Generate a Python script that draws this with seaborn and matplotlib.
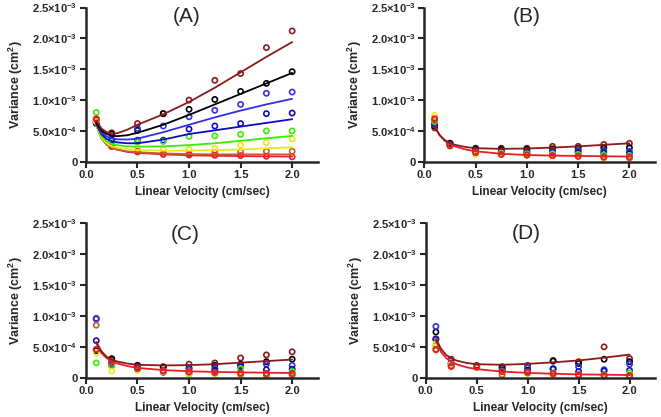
import numpy as np
import pandas as pd
import matplotlib
matplotlib.use('Agg')
import matplotlib.pyplot as plt
import seaborn as sns

sns.set_style('ticks')
plt.rcParams['font.family'] = ['Liberation Sans', 'DejaVu Sans']
plt.rcParams['font.weight'] = 'bold'
plt.rcParams['mathtext.fontset'] = 'custom'
plt.rcParams['mathtext.rm'] = 'Liberation Sans:bold'
plt.rcParams['mathtext.it'] = 'Liberation Sans:bold'
plt.rcParams['mathtext.bf'] = 'Liberation Sans:bold'

# velocities of the measured points and of the drawn fit curves (cm/sec)
velocity = [0.1, 0.25, 0.5, 0.75, 1.0, 1.25, 1.5, 1.75, 2.0]
fit_velocity = [0.1, 0.15, 0.2, 0.25, 0.3, 0.4, 0.5, 0.75, 1.0, 1.25, 1.5, 1.75, 2.0]

series = ['darkred', 'black', 'blue', 'navy', 'green', 'yellow', 'orange', 'red']
colors = ['#8b1a1a', '#000000', '#3030e8', '#0c0cc8', '#3cec00', '#e8e81c', '#c85a32', '#ec1c24']

# measured variances, units of 1e-4 cm^2, one row per series (order as `series`)
points_A = [
    [6.75, 4.7, 6.2, 7.8, 10.0, 13.2, 14.3, 18.5, 21.2],
    [6.2, 4.5, 5.1, 7.8, 8.5, 10.1, 11.4, 12.7, 14.6],
    [6.3, 3.6, 5.4, 5.8, 7.3, 8.35, 9.3, 11.1, 11.3],
    [6.4, 3.5, 3.5, 3.5, 5.3, 5.8, 6.2, 7.8, 7.9],
    [8.0, 3.0, 3.2, 3.3, 4.1, 4.2, 4.45, 5.0, 5.0],
    [6.5, 2.5, 2.2, 2.0, 2.0, 2.2, 2.7, 3.1, 3.7],
    [7.0, 2.5, 1.7, 1.3, 1.3, 1.5, 1.6, 1.7, 1.7],
    [6.9, 2.5, 1.6, 1.2, 1.1, 1.05, 1.0, 0.9, 0.8],
]
points_B = [
    [5.5, 3.0, 2.2, 2.2, 2.2, 2.5, 2.5, 2.8, 3.0],
    [5.8, 3.0, 2.1, 2.0, 2.0, 2.1, 2.2, 2.3, 2.3],
    [6.0, 2.8, 1.9, 1.7, 1.6, 1.8, 1.8, 1.8, 1.7],
    [6.2, 2.7, 1.8, 1.6, 1.5, 1.5, 1.5, 1.4, 1.3],
    [6.5, 2.6, 1.6, 1.4, 1.3, 1.3, 1.2, 1.1, 1.0],
    [7.5, 2.5, 1.2, 1.3, 1.0, 1.1, 0.9, 0.7, 0.7],
    [6.8, 2.6, 1.5, 1.2, 1.1, 1.0, 0.9, 0.7, 0.6],
    [7.0, 2.6, 1.5, 1.2, 1.1, 1.0, 0.9, 0.8, 0.8],
]
points_C = [
    [9.6, 2.9, 2.0, 1.8, 2.2, 2.4, 3.2, 3.7, 4.2],
    [4.4, 3.1, 2.0, 1.7, 1.6, 2.0, 2.2, 2.6, 3.0],
    [9.5, 2.3, 1.8, 1.2, 1.4, 1.5, 2.0, 2.2, 2.0],
    [6.0, 2.0, 1.6, 0.9, 0.8, 1.2, 1.8, 1.3, 1.4],
    [2.4, 1.9, 1.4, 1.0, 0.6, 0.7, 1.5, 0.5, 1.0],
    [4.0, 1.1, 1.2, 1.0, 0.7, 0.7, 0.4, 0.3, 0.4],
    [8.5, 2.5, 1.5, 1.1, 0.9, 0.8, 0.6, 0.5, 0.5],
    [4.6, 2.6, 1.5, 1.1, 1.0, 0.9, 0.8, 0.7, 0.7],
]
points_D = [
    [6.2, 3.0, 2.0, 1.8, 2.0, 2.8, 2.6, 5.0, 3.1],
    [7.4, 2.3, 1.9, 1.6, 1.2, 2.7, 2.3, 3.0, 2.6],
    [8.3, 2.4, 1.8, 1.3, 1.6, 1.5, 1.8, 1.3, 2.2],
    [6.3, 2.2, 1.8, 1.2, 1.1, 1.4, 1.0, 1.1, 1.2],
    [5.2, 2.0, 1.8, 1.0, 0.9, 0.8, 0.5, 0.5, 0.8],
    [5.5, 2.2, 1.7, 0.4, 0.7, 0.5, 0.5, 0.4, 0.4],
    [4.5, 1.8, 1.8, 0.5, 0.8, 0.6, 0.4, 0.3, 0.4],
    [4.6, 1.9, 1.7, 1.0, 0.9, 0.7, 0.5, 0.4, 0.3],
]

# fit curves, units of 1e-4 cm^2
curves_A = [
    [6.7, 5.4, 4.8, 4.6, 4.6, 5.2, 6.0, 7.7, 9.7, 12.0, 14.5, 17.0, 19.4],
    [6.3, 5.1, 4.5, 4.25, 4.15, 4.3, 4.7, 6.0, 7.6, 9.3, 11.0, 12.7, 14.4],
    [6.2, 4.8, 4.1, 3.8, 3.65, 3.6, 3.75, 4.8, 6.0, 7.2, 8.3, 9.3, 10.2],
    [6.1, 4.5, 3.7, 3.35, 3.15, 3.0, 3.0, 3.6, 4.5, 5.1, 5.7, 6.3, 6.9],
    [6.0, 4.2, 3.3, 2.9, 2.7, 2.5, 2.45, 2.5, 2.7, 3.0, 3.4, 3.8, 4.2],
    [5.9, 3.9, 3.0, 2.5, 2.3, 2.05, 1.9, 1.8, 1.8, 1.9, 2.0, 2.2, 2.35],
    [6.0, 3.8, 2.8, 2.3, 2.0, 1.7, 1.55, 1.35, 1.25, 1.2, 1.2, 1.2, 1.2],
    [6.0, 3.8, 2.8, 2.3, 2.0, 1.6, 1.45, 1.2, 1.05, 0.98, 0.92, 0.88, 0.85],
]
curves_B = [
    [5.6, 4.3, 3.5, 3.05, 2.75, 2.4, 2.2, 2.1, 2.15, 2.3, 2.5, 2.75, 3.0],
    [5.8, 4.3, 3.4, 2.85, 2.5, 2.0, 1.7, 1.3, 1.1, 1.0, 0.95, 0.9, 0.85],
]
curves_C = [
    [5.8, 4.3, 3.4, 2.95, 2.65, 2.3, 2.1, 2.0, 2.05, 2.2, 2.45, 2.7, 2.95],
    [5.6, 4.0, 3.2, 2.7, 2.35, 1.9, 1.6, 1.25, 1.05, 0.95, 0.88, 0.82, 0.78],
]
curves_D = [
    [6.3, 4.7, 3.7, 3.15, 2.8, 2.4, 2.2, 2.1, 2.25, 2.5, 2.8, 3.25, 3.75],
    [6.0, 4.2, 3.2, 2.6, 2.2, 1.7, 1.4, 1.0, 0.8, 0.65, 0.55, 0.5, 0.45],
]

panel_names = ['(A)', '(B)', '(C)', '(D)']
panel_points = [points_A, points_B, points_C, points_D]
panel_curves = [curves_A, curves_B, curves_C, curves_D]
panel_curve_series = [series, ['darkred', 'red'], ['darkred', 'red'], ['darkred', 'red']]

ytick_vals = [0, 5e-4, 1e-3, 1.5e-3, 2e-3, 2.5e-3]
ytick_labels = ['0', '5.0×10$^{-4}$', '1.0×10$^{-3}$', '1.5×10$^{-3}$',
                '2.0×10$^{-3}$', '2.5×10$^{-3}$']
xtick_vals = [0.0, 0.5, 1.0, 1.5, 2.0]

palette = dict(zip(series, colors))

# axes rectangles in figure fraction
rects = [[0.130, 0.612, 0.351, 0.370], [0.642, 0.612, 0.349, 0.370],
         [0.130, 0.094, 0.351, 0.371], [0.644, 0.094, 0.347, 0.371]]
title_pos = [(0.435, 0.94), (0.444, 0.94), (0.427, 0.925), (0.44, 0.93)]

fig = plt.figure(figsize=(6.61, 4.17), dpi=100)

for i in range(4):
    ax = fig.add_axes(rects[i])
    rows = []
    for name, vals in zip(series, panel_points[i]):
        for v, h in zip(velocity, vals):
            rows.append({'u': v, 'H': h * 1e-4, 'series': name})
    pts = pd.DataFrame(rows)
    sns.scatterplot(data=pts, x='u', y='H', hue='series', hue_order=series, palette=palette,
                    s=14, linewidth=1.2, legend=False, ax=ax, zorder=2)
    coll = ax.collections[-1]
    coll.set_edgecolors(coll.get_facecolors())
    coll.set_facecolors('none')

    crows = []
    for name, vals in zip(panel_curve_series[i], panel_curves[i]):
        for v, h in zip(fit_velocity, vals):
            crows.append({'u': v, 'H': h * 1e-4, 'series': name})
    cdf = pd.DataFrame(crows)
    sns.lineplot(data=cdf, x='u', y='H', hue='series', hue_order=panel_curve_series[i][::-1],
                 palette=palette, linewidth=1.3, sort=False, estimator=None,
                 legend=False, ax=ax, zorder=3)

    ax.set_xlim(0, 2.25)
    ax.set_ylim(0, 2.5e-3)
    ax.set_xticks(xtick_vals)
    ax.set_xticklabels(['%.1f' % t for t in xtick_vals])
    ax.set_yticks(ytick_vals)
    ax.set_yticklabels(ytick_labels)
    ax.tick_params(axis='both', labelsize=8, width=1.5, length=4, direction='out', pad=2)
    for lab in ax.get_xticklabels() + ax.get_yticklabels():
        lab.set_fontweight('bold')
    for sp in ['top', 'right']:
        ax.spines[sp].set_visible(False)
    for sp in ['left', 'bottom']:
        ax.spines[sp].set_linewidth(1.8)
    ax.set_xlabel('Linear Velocity (cm/sec)', fontsize=8.5, fontweight='bold', labelpad=4)
    ax.set_ylabel('Variance (cm$^{2}$)', fontsize=9, fontweight='bold', labelpad=5)
    tx, ty = title_pos[i]
    ax.text(tx, ty, panel_names[i], transform=ax.transAxes, ha='center', va='center',
            fontsize=15, fontweight='normal')
    for c in ax.collections:
        c.set_clip_on(False)

fig.savefig('out.png', dpi=100)
